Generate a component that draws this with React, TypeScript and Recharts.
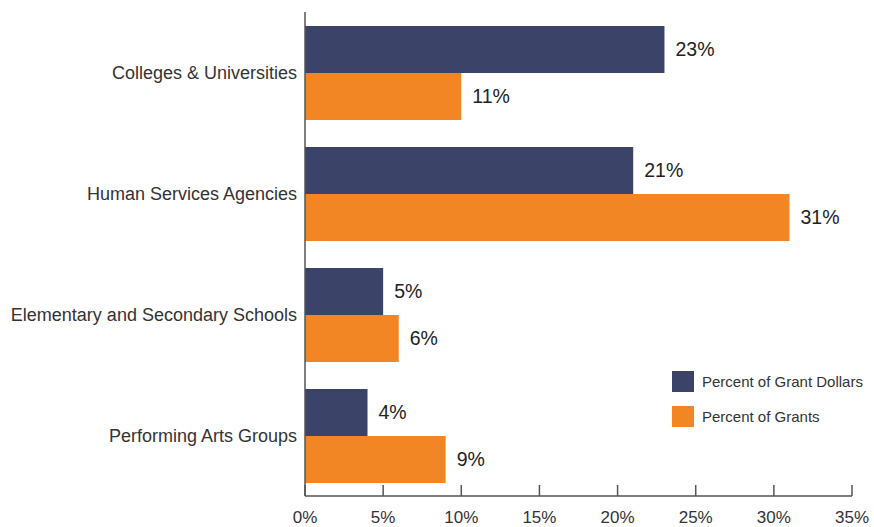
import { BarChart, Bar, XAxis, YAxis, LabelList } from "recharts";

const categories = [
  "Colleges & Universities",
  "Human Services Agencies",
  "Elementary and Secondary Schools",
  "Performing Arts Groups",
];
// bar lengths as drawn in the picture
const grantDollars = [23, 21, 5, 4];
const grants = [10, 31, 6, 9];
// printed labels (the first orange bar is labelled 11% though drawn to 10%)
const grantDollarsLabels = ["23%", "21%", "5%", "4%"];
const grantsLabels = ["11%", "31%", "6%", "9%"];
const xTicks = [0, 5, 10, 15, 20, 25, 30, 35];
const seriesNames = ["Percent of Grant Dollars", "Percent of Grants"];

const NAVY = "#3b4368";
const ORANGE = "#f28524";
const AXIS = "#555555";
const FONT = "Arial, 'Liberation Sans', sans-serif";

const data = categories.map((name, i) => ({
  name,
  dollars: grantDollars[i],
  grants: grants[i],
  dollarsLabel: grantDollarsLabels[i],
  grantsLabel: grantsLabels[i],
}));

const XTick = (props: any) => {
  const { x, y, payload } = props;
  return (
    <g>
      <line x1={x} x2={x} y1={y} y2={y - 11} stroke={AXIS} strokeWidth={1.5} />
      <text x={x} y={y + 27} textAnchor="middle" fontSize={17} fill="#333" fontFamily={FONT}>
        {payload.value}%
      </text>
    </g>
  );
};

const LegendBox = () => (
  <div
    style={{
      position: "absolute",
      left: 672,
      top: 364,
      fontFamily: "'Liberation Sans Narrow', Arial, sans-serif",
      fontSize: 15,
      color: "#333",
    }}
  >
    {seriesNames.map((label, i) => (
      <div key={label} style={{ display: "flex", alignItems: "center", height: 35 }}>
        <div style={{ width: 22, height: 21, background: i === 0 ? NAVY : ORANGE, marginRight: 8 }} />
        <span>{label}</span>
      </div>
    ))}
  </div>
);

const labelStyle = { fontSize: 19.5, fill: "#222", fontFamily: FONT };

const App = () => {
  return (
    <div style={{ position: "absolute", left: 0, top: 0, width: 874, height: 527, background: "#fff" }}>
      <BarChart
        width={874}
        height={527}
        data={data}
        layout="vertical"
        margin={{ top: 12, right: 22, left: 0, bottom: 0 }}
        barCategoryGap="11.5%"
        barGap={0}
      >
        <XAxis
          type="number"
          domain={[0, 35]}
          ticks={xTicks}
          height={31}
          tickLine={false}
          tickSize={0}
          tickMargin={0}
          axisLine={{ stroke: AXIS, strokeWidth: 1.5 }}
          tick={<XTick />}
          interval={0}
        />
        <YAxis
          type="category"
          dataKey="name"
          width={305}
          tickLine={false}
          tickSize={0}
          tickMargin={8}
          axisLine={{ stroke: AXIS, strokeWidth: 1.5 }}
          tick={{ fontSize: 18, fill: "#333", fontFamily: FONT }}
        />
        <Bar dataKey="dollars" fill={NAVY} isAnimationActive={false}>
          <LabelList dataKey="dollarsLabel" position="right" offset={11} style={labelStyle} />
        </Bar>
        <Bar dataKey="grants" fill={ORANGE} isAnimationActive={false}>
          <LabelList dataKey="grantsLabel" position="right" offset={11} style={labelStyle} />
        </Bar>
      </BarChart>
      <LegendBox />
    </div>
  );
};

export default App;
